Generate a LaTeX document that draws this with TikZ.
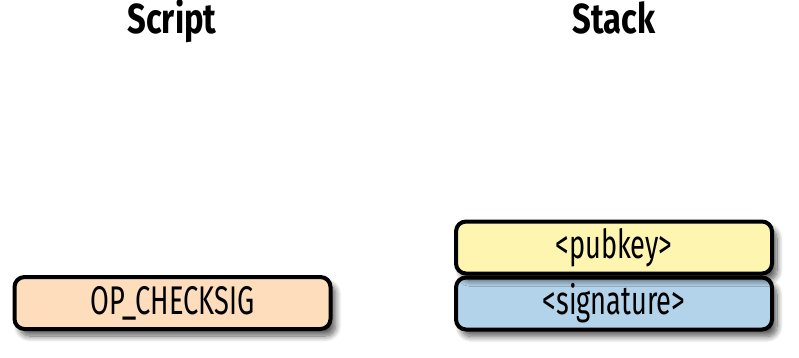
\documentclass[tikz,border=0pt]{standalone}
\usepackage{fontspec}
\setmainfont{Fira Sans}[FakeStretch=0.68]
\newfontfamily\titlefont{Fira Sans}[FakeStretch=0.78]
\usetikzlibrary{shadows.blur}
\definecolor{peach}{HTML}{FDDDBB}
\definecolor{pubyellow}{HTML}{FEF5B0}
\definecolor{sigblue}{HTML}{B3D3EA}
\tikzset{
  stackbox/.style={draw=black, line width=4pt, rounded corners=10pt,
    minimum width=316pt, minimum height=52pt, inner sep=0pt,
    font=\fontsize{40}{40}\selectfont,
    blur shadow={shadow xshift=5pt, shadow yshift=-7pt, shadow blur radius=6pt, shadow blur steps=10, shadow opacity=65}},
  title/.style={font=\titlefont\bfseries\fontsize{42}{42}\selectfont, inner sep=0pt}
}
\begin{document}
\begin{tikzpicture}[x=1pt,y=-1pt]
\useasboundingbox (0,0) rectangle (799,357);
\node[title, anchor=base] (script) at (172,33) {Script};
\node[title, anchor=base] (stack) at (614,33) {Stack};
\node[stackbox, fill=peach] (op) at (172.5,303) {OP\_CHECKSIG};
\node[stackbox, fill=sigblue] (sig) at (614,303.5) {<signature>};
\node[stackbox, fill=pubyellow] (pub) at (614,247.5) {<pubkey>};
\end{tikzpicture}
\end{document}
